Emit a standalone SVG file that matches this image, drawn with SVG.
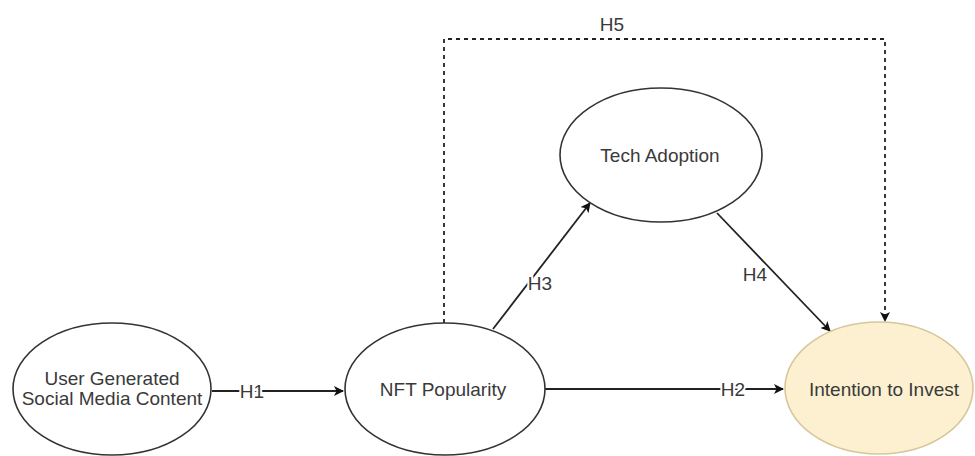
<svg xmlns="http://www.w3.org/2000/svg" width="975" height="456" viewBox="0 0 975 456">
<style>
.node ellipse{fill:#ffffff;stroke:#333333;stroke-width:1.6}
.node text,.lbl{font-family:"Liberation Sans",Arial,sans-serif;font-size:19px;fill:#3a3a3a;text-anchor:middle;dominant-baseline:central}
.edge{fill:none;stroke:#222222;stroke-width:1.8}
.dash{stroke-dasharray:4 4}
.lbl{paint-order:stroke;stroke:#ffffff;stroke-width:4px}
</style>
<defs>
<marker id="arrL" viewBox="0 0 10 10" refX="9" refY="5" markerWidth="10" markerHeight="10" markerUnits="userSpaceOnUse" orient="auto">
<path d="M0,0 L10,5 L0,10 L2.5,5 Z" fill="#111111"/>
</marker>
</defs>
<g id="connectors">
<line class="edge" x1="212" y1="391" x2="343" y2="391" marker-end="url(#arrL)"/>
<line class="edge" x1="545" y1="389" x2="783" y2="389" marker-end="url(#arrL)"/>
<line class="edge" x1="493" y1="329" x2="590" y2="203" marker-end="url(#arrL)"/>
<line class="edge" x1="717" y1="213" x2="830" y2="331" marker-end="url(#arrL)"/>
<polyline class="edge dash" points="444,323 444,39 885,39 885,321" marker-end="url(#arrL)"/>
<text class="lbl" x="252" y="391">H1</text>
<text class="lbl" x="733" y="389">H2</text>
<text class="lbl" x="540" y="283">H3</text>
<text class="lbl" x="755" y="274">H4</text>
<text class="lbl" x="612" y="24">H5</text>
</g>
<g id="node-ugc" class="node">
<ellipse cx="112" cy="389" rx="99" ry="66"/>
<text x="112" y="378">User Generated</text>
<text x="112" y="398">Social Media Content</text>
</g>
<g id="node-nft" class="node">
<ellipse cx="445" cy="389" rx="100" ry="66"/>
<text x="443" y="389">NFT Popularity</text>
</g>
<g id="node-tech" class="node">
<ellipse cx="661" cy="155" rx="101" ry="67"/>
<text x="660" y="155">Tech Adoption</text>
</g>
<g id="node-intention" class="node">
<ellipse cx="879" cy="388" rx="94" ry="66" style="fill:#fcf0d0;stroke:#d6c79a"/>
<text x="884" y="389">Intention to Invest</text>
</g>
</svg>
